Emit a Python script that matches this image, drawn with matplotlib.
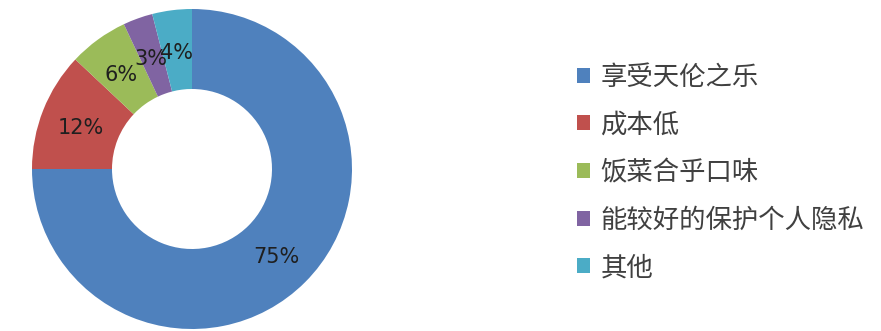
import matplotlib
matplotlib.use('Agg')
import matplotlib.pyplot as plt
from matplotlib.patches import Patch

# Data
categories = ['享受天伦之乐', '成本低', '饭菜合乎口味', '能较好的保护个人隐私', '其他']
shares = [75, 12, 6, 3, 4]
colors = ['#4F81BD', '#C0504D', '#9BBB59', '#8064A2', '#4BACC6']

plt.rcParams['font.family'] = ['Noto Sans CJK SC', 'DejaVu Sans']

fig = plt.figure(figsize=(8.81, 3.31), dpi=100)

# Donut: center about (192, 169) px from top-left, outer radius 160 px
W, H = 881, 331
cx, cy, r = 192, 331 - 169, 160
ax = fig.add_axes([(cx - r) / W, (cy - r) / H, 2 * r / W, 2 * r / H])
wedges, texts, autotexts = ax.pie(
    shares, colors=colors, startangle=90, counterclock=False,
    autopct='%d%%', pctdistance=0.75, radius=1,
    wedgeprops=dict(width=0.5, edgecolor='none'),
    textprops=dict(fontsize=15, color='#1f1f1f', family='DejaVu Sans'))
for t in autotexts:
    x, y = t.get_position()
    t.set_position((x, y - 0.02))
ax.set_xlim(-1, 1)
ax.set_ylim(-1, 1)
ax.set_aspect('equal')
ax.axis('off')

# Legend
handles = [Patch(facecolor=c, edgecolor='none') for c in colors]
fig.legend(handles, categories, loc='upper left',
           bbox_to_anchor=(553 / W, 1 - 40 / H), frameon=False,
           fontsize=19, handlelength=0.5, handleheight=0.5,
           handletextpad=0.4, labelspacing=0.78, labelcolor='#404040')

fig.savefig('out.png', dpi=100)
